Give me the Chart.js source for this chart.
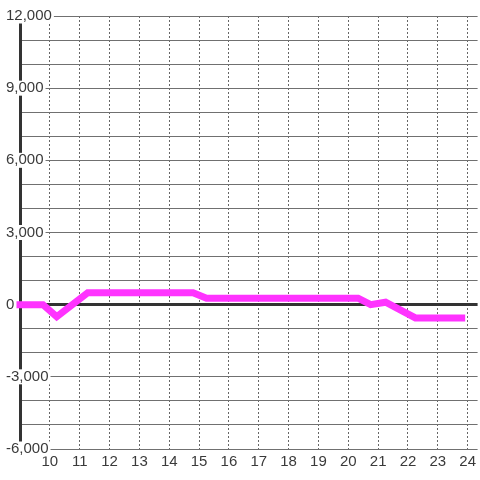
<!DOCTYPE html>
<html>
<head>
<meta charset="utf-8">
<script src="https://cdn.jsdelivr.net/npm/chart.js@4/dist/chart.umd.min.js"></script>
<style>
  html, body { margin: 0; padding: 0; background: #ffffff; }
  #wrap { width: 480px; height: 480px; }
</style>
</head>
<body>
<div id="wrap"><canvas id="lineChart"></canvas></div>
<script>
// hours and values
const hours = [9, 9.77, 10.23, 11.27, 14.8, 15.25, 20.33, 20.75, 21.25, 22.25, 23.8];
const values = [0, 0, -500, 500, 500, 270, 270, 0, 100, -550, -550];
const xTicks = [10, 11, 12, 13, 14, 15, 16, 17, 18, 19, 20, 21, 22, 23, 24];
const yLabelStep = 3000;

const textColor = "#3a3a3a";
const fontFamily = "'Liberation Sans', Arial, sans-serif";

const points = hours.map((h, i) => ({ x: h, y: values[i] }));

const ctx = document.getElementById("lineChart").getContext("2d");
new Chart(ctx, {
    type: "line",
    data: {
        datasets: [{
            data: points,
            borderColor: "#ff33ff",
            borderWidth: 7,
            borderCapStyle: "square",
            pointRadius: 0,
            tension: 0,
            fill: false,
            clip: false
        }]
    },
    options: {
        responsive: true,
        maintainAspectRatio: false,
        animation: false,
        layout: { padding: { left: 20, right: 0, top: 16, bottom: 5 } },
        plugins: {
            legend: { display: false },
            tooltip: { enabled: false }
        },
        scales: {
            x: {
                type: "linear",
                min: 9,
                max: 24.333,
                afterBuildTicks: axis => { axis.ticks = xTicks.map(v => ({ value: v })); },
                grid: { color: "#666", lineWidth: 1, drawTicks: false },
                border: { display: false, dash: [2, 2] },
                ticks: {
                    color: textColor,
                    padding: 4,
                    font: { family: fontFamily, size: 15 },
                    callback: value => String(value)
                }
            },
            y: {
                type: "linear",
                position: "left",
                min: -6000,
                max: 12000,
                afterFit: axis => { axis.width = 0; },
                grid: {
                    drawTicks: false,
                    color: c => c.tick && c.tick.value === 0 ? "#333" : "#707070",
                    lineWidth: c => c.tick && c.tick.value === 0 ? 3 : 1
                },
                border: { display: true, color: "#333", width: 3 },
                ticks: {
                    stepSize: 1000,
                    mirror: true,
                    padding: -14,
                    color: textColor,
                    font: { family: fontFamily, size: 15, lineHeight: 1 },
                    showLabelBackdrop: c => c.tick && c.tick.value % yLabelStep === 0,
                    backdropColor: "#ffffff",
                    backdropPadding: { left: 2, right: 2, top: 0, bottom: 0 },
                    callback: value => value % yLabelStep === 0 ? value.toLocaleString("en-US") : ""
                }
            }
        }
    }
});
</script>
</body>
</html>
